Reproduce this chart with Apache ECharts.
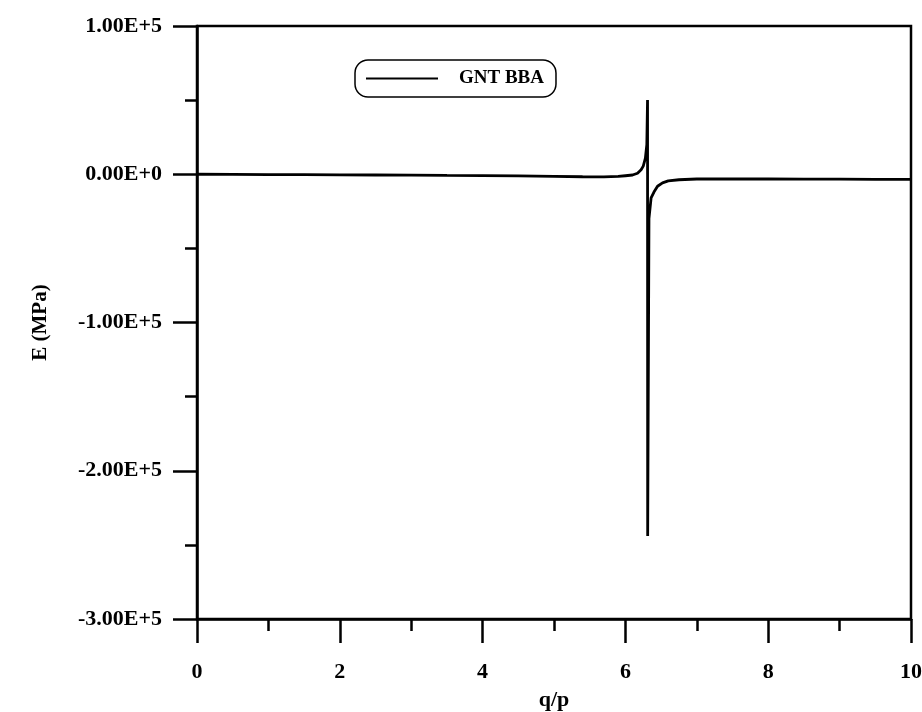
<!DOCTYPE html>
<html>
<head>
<meta charset="utf-8">
<script src="https://cdn.jsdelivr.net/npm/echarts@6/dist/echarts.min.js"></script>
<style>
html,body{margin:0;padding:0;background:#fff;}
#chart{width:922px;height:712px;}
</style>
</head>
<body>
<div id="chart"></div>
<script>
// ---- data ----
const seriesName = 'GNT BBA';
const qValues = [0, 0.5, 1, 1.5, 2, 2.5, 3, 3.5, 4, 4.5, 5, 5.4, 5.7, 5.9, 6.0, 6.1, 6.17, 6.22, 6.25, 6.28, 6.30, 6.31, 6.312, 6.33, 6.36, 6.40, 6.45, 6.52, 6.60, 6.75, 7.0, 7.5, 8.0, 8.5, 9.0, 9.5, 10.0];
const eValues = [0, -100, -200, -300, -400, -500, -600, -800, -900, -1100, -1400, -1700, -1800, -1500, -1000, -500, 700, 3000, 5500, 10800, 20000, 50000, -244000, -30000, -16000, -12000, -8100, -5800, -4500, -3700, -3200, -3200, -3200, -3300, -3300, -3400, -3400];
const yTickValues = [100000, 0, -100000, -200000, -300000];
const yTickLabels = ['1.00E+5', '0.00E+0', '-1.00E+5', '-2.00E+5', '-3.00E+5'];
const xTickValues = [0, 2, 4, 6, 8, 10];
const xTickLabels = ['0', '2', '4', '6', '8', '10'];
const xAxisTitle = 'q/p';
const yAxisTitle = 'E (MPa)';

const seriesData = qValues.map((q, i) => [q, eValues[i]]);
const fontFam = '"Liberation Serif", "DejaVu Serif", serif';

const chart = echarts.init(document.getElementById('chart'), null, {renderer: 'canvas'});
chart.setOption({
  backgroundColor: '#fff',
  animation: false,
  grid: {
    left: 197, right: 11, top: 26, bottom: 93,
    outerBoundsMode: 'none', containLabel: false,
    show: true, borderColor: '#000', borderWidth: 2.5, backgroundColor: 'transparent'
  },
  legend: {
    left: 355, top: 60,
    data: [seriesName],
    icon: 'rect',
    itemWidth: 72, itemHeight: 2,
    padding: [9, 12, 9, 11],
    borderColor: '#000', borderWidth: 1.5, borderRadius: 13,
    textStyle: {
      fontFamily: fontFam, fontWeight: 'bold', fontSize: 19, color: '#000',
      padding: [0, 0, 0, 16]
    }
  },
  xAxis: {
    type: 'value', min: 0, max: 10, interval: 2,
    name: xAxisTitle, nameLocation: 'middle', nameGap: 70,
    nameTextStyle: {fontFamily: fontFam, fontWeight: 'bold', fontSize: 22, color: '#000'},
    axisLine: {show: true, onZero: false, lineStyle: {color: '#000', width: 2.5}},
    axisTick: {show: true, inside: false, length: 24, lineStyle: {color: '#000', width: 2.5}},
    minorTick: {show: true, splitNumber: 2, length: 12, lineStyle: {color: '#000', width: 2.5}},
    splitLine: {show: false},
    axisLabel: {
      margin: 42, fontFamily: fontFam, fontWeight: 'bold', fontSize: 22, color: '#000',
      formatter: v => { const i = xTickValues.indexOf(v); return i >= 0 ? xTickLabels[i] : ''; }
    }
  },
  yAxis: {
    type: 'value', min: -300000, max: 100000, interval: 100000,
    name: yAxisTitle, nameLocation: 'middle', nameGap: 146,
    nameTextStyle: {fontFamily: fontFam, fontWeight: 'bold', fontSize: 21, color: '#000'},
    axisLine: {show: true, onZero: false, lineStyle: {color: '#000', width: 2.5}},
    axisTick: {show: true, inside: false, length: 24, lineStyle: {color: '#000', width: 2.5}},
    minorTick: {show: true, splitNumber: 2, length: 12, lineStyle: {color: '#000', width: 2.5}},
    splitLine: {show: false},
    axisLabel: {
      margin: 35, fontFamily: fontFam, fontWeight: 'bold', fontSize: 22, color: '#000',
      formatter: v => { const i = yTickValues.indexOf(v); return i >= 0 ? yTickLabels[i] : ''; }
    }
  },
  series: [{
    name: seriesName, type: 'line', data: seriesData,
    symbol: 'none', smooth: false,
    lineStyle: {color: '#000', width: 2.8},
    itemStyle: {color: '#000'}
  }]
});
</script>
</body>
</html>
